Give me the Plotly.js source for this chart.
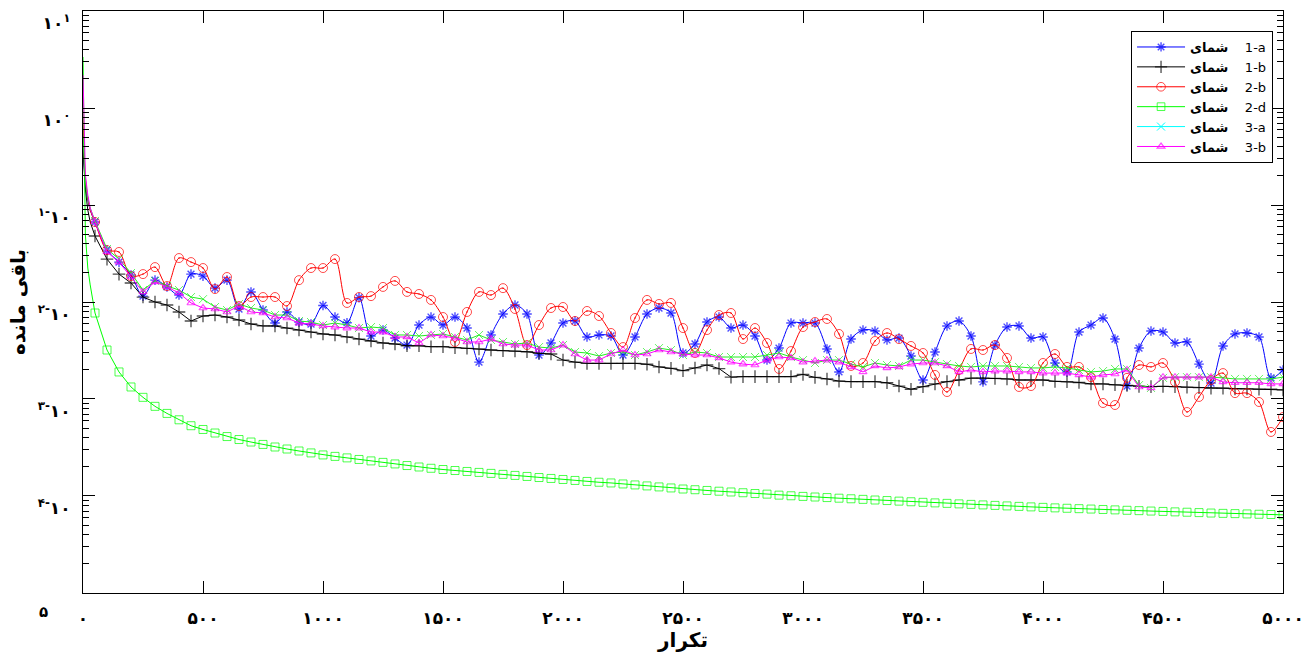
<!DOCTYPE html>
<html>
<head>
<meta charset="utf-8">
<script src="https://cdn.plot.ly/plotly-3.0.1.min.js"></script>
<style>html,body{margin:0;padding:0;background:#fff;}#chart{width:1305px;height:659px;}</style>
</head>
<body>
<div id="chart"></div>
<script>
const iterations = [0,10,20,30,50,100,150,200,250,300,350,400,450,500,550,600,650,700,750,800,850,900,950,1000,1050,1100,1150,1200,1250,1300,1350,1400,1450,1500,1550,1600,1650,1700,1750,1800,1850,1900,1950,2000,2050,2100,2150,2200,2250,2300,2350,2400,2450,2500,2550,2600,2650,2700,2750,2800,2850,2900,2950,3000,3050,3100,3150,3200,3250,3300,3350,3400,3450,3500,3550,3600,3650,3700,3750,3800,3850,3900,3950,4000,4050,4100,4150,4200,4250,4300,4350,4400,4450,4500,4550,4600,4650,4700,4750,4800,4850,4900,4950,5000];

const s1a = [0.527,0.161,0.1125,0.0888,
0.0668,0.0343,0.0258,0.019,0.0115,0.0168,0.0143,0.0118,0.0194,0.0185,
0.0139,0.0168,0.00847,0.0127,0.00827,0.00607,0.00789,0.00622,0.00593,0.0092,
0.0070,0.00612,0.0111,0.00446,0.00514,0.00425,0.0036,0.00579,0.0070,0.00579,
0.0070,0.00539,0.0024,0.00457,0.00752,0.00931,0.00752,0.00284,0.00378,0.00607,
0.00637,0.00436,0.00457,0.00446,0.00284,0.00436,0.00752,0.00867,0.0077,0.00298,
0.00369,0.00622,0.0070,0.00539,0.00579,0.00446,0.00252,0.00335,0.00607,0.00607,
0.00607,0.00328,0.0019,0.00415,0.00514,0.00502,0.00406,0.00425,0.00277,0.00157,
0.00305,0.00566,0.00637,0.00446,0.0015,0.0036,0.00552,0.00566,0.00425,0.00436,
0.00235,0.0019,0.0049,0.00579,0.00684,0.00415,0.00136,0.00335,0.00502,0.0049,
0.00378,0.00387,0.00229,0.00146,0.00352,0.00468,0.00479,0.00436,0.00165,0.00199];

const s1b = [0.369,0.143,0.0888,0.0668,
0.0479,0.0277,0.0194,0.0157,0.01125,0.0100,0.00931,0.00789,0.00637,0.00717,
0.00734,0.0070,0.00652,0.00593,0.00566,0.00566,0.00539,0.00514,0.0049,0.00468,
0.00457,0.00436,0.00415,0.00396,0.00378,0.00369,0.00354,0.00354,0.00346,0.00346,
0.00338,0.00333,0.00328,0.0032,0.00315,0.00312,0.00307,0.00296,0.00291,0.00252,
0.0024,0.00233,0.00233,0.00233,0.00233,0.00233,0.00228,0.00214,0.00207,0.00196,
0.00209,0.00224,0.00206,0.00168,0.0017,0.0017,0.0017,0.0017,0.0017,0.00179,
0.00167,0.00161,0.00153,0.00151,0.00151,0.00151,0.00147,0.00136,0.00126,0.00134,
0.00143,0.00151,0.00157,0.00164,0.00164,0.00163,0.00161,0.00157,0.00157,0.00157,
0.00152,0.00151,0.00148,0.00143,0.00143,0.0014,0.00138,0.00135,0.00134,0.00135,
0.00134,0.00132,0.00131,0.00129,0.00129,0.00127,0.00127,0.00126,0.00126,0.00124];

const s2b = [0.909,0.190,0.118,0.0888,
0.0668,0.0343,0.0328,0.0185,0.0194,0.0229,0.0146,0.0284,0.0258,0.0224,
0.0136,0.0181,0.00909,0.01125,0.01125,0.01125,0.00909,0.0168,0.0224,0.0224,
0.0277,0.00977,0.01125,0.0115,0.0143,0.0165,0.0127,0.0121,0.0105,0.0070,
0.00387,0.00789,0.0127,0.0118,0.0139,0.00847,0.0036,0.00579,0.00867,0.00888,
0.00637,0.00808,0.00717,0.00479,0.00343,0.00684,0.0105,0.00954,0.00977,0.00539,
0.00298,0.00514,0.00734,0.0077,0.00415,0.00539,0.00378,0.00204,0.00312,0.00552,
0.00622,0.00668,0.00468,0.00219,0.00235,0.00396,0.00479,0.00415,0.00352,0.00298,
0.00177,0.00118,0.00199,0.00328,0.0032,0.0036,0.00265,0.00133,0.00136,0.00235,
0.00291,0.00214,0.00214,0.00168,0.000909,0.000867,0.00165,0.00224,0.00214,0.00235,
0.0015,0.000734,0.00105,0.00157,0.00185,0.00115,0.00115,0.000931,0.000457,0.000652];

const s2d = [3.36,0.0491,0.0224,0.0150,
0.0077,0.0032,0.0019,0.00133,0.00104,8.4e-4,7.1e-4,6.1e-4,5.3e-4,4.85e-4,
4.46e-4,4.1e-4,3.82e-4,3.6e-4,3.4e-4,3.2e-4,3.05e-4,2.91e-4,2.78e-4,2.65e-4,
2.56e-4,2.47e-4,2.38e-4,2.3e-4,2.22e-4,2.14e-4,2.06e-4,1.99e-4,1.93e-4,1.875e-4,
1.83e-4,1.79e-4,1.75e-4,1.71e-4,1.67e-4,1.63e-4,1.59e-4,1.55e-4,1.516e-4,1.48e-4,
1.446e-4,1.412e-4,1.385e-4,1.363e-4,1.331e-4,1.3e-4,1.27e-4,1.24e-4,1.21e-4,1.18e-4,
1.16e-4,1.14e-4,1.12e-4,1.10e-4,1.08e-4,1.06e-4,1.045e-4,1.02e-4,1.005e-4,0.99e-4,
9.76e-5,9.63e-5,9.49e-5,9.36e-5,9.23e-5,9.09e-5,8.97e-5,8.85e-5,8.72e-5,8.6e-5,
8.49e-5,8.39e-5,8.29e-5,8.19e-5,8.09e-5,8.0e-5,7.9e-5,7.81e-5,7.72e-5,7.63e-5,
7.54e-5,7.47e-5,7.4e-5,7.33e-5,7.26e-5,7.19e-5,7.12e-5,7.06e-5,6.99e-5,6.93e-5,
6.86e-5,6.8e-5,6.74e-5,6.67e-5,6.62e-5,6.58e-5,6.53e-5,6.48e-5,6.44e-5,6.39e-5];

const s3a = [0.502,0.181,0.118,0.0931,
0.0684,0.0352,0.0277,0.0199,0.0133,0.0165,0.0146,0.0133,0.01125,0.0107,
0.00888,0.00827,0.00954,0.00867,0.00827,0.00734,0.00734,0.00637,0.00622,0.00579,
0.00607,0.00579,0.00539,0.00552,0.00539,0.00457,0.00457,0.00446,0.00457,0.00468,
0.00436,0.00406,0.00457,0.00406,0.00387,0.00369,0.00378,0.00343,0.00335,0.0036,
0.00305,0.00298,0.00277,0.00298,0.00305,0.00284,0.00305,0.00335,0.0032,0.00284,
0.00305,0.00298,0.00271,0.00271,0.00271,0.00271,0.00284,0.00298,0.00271,0.00252,
0.00235,0.00252,0.00252,0.00229,0.00214,0.00235,0.00224,0.00219,0.00252,0.00252,
0.0024,0.00229,0.00219,0.00214,0.00219,0.00219,0.00219,0.00214,0.00209,0.00209,
0.00214,0.00209,0.00199,0.0019,0.00194,0.00204,0.00204,0.00139,0.0013,0.00165,
0.00168,0.00168,0.00168,0.00168,0.00165,0.00161,0.00161,0.00161,0.00161,0.00168];

const s3b = [2.19,0.204,0.127,0.0931,
0.0668,0.0328,0.0258,0.0181,0.0127,0.0161,0.0143,0.0124,0.00977,0.00867,
0.00847,0.00789,0.00909,0.00789,0.0077,0.0070,0.00684,0.00607,0.00593,0.00566,
0.00552,0.00539,0.00539,0.0049,0.0049,0.00436,0.00436,0.00378,0.00457,0.00446,
0.00425,0.00387,0.00387,0.00415,0.00369,0.0036,0.0036,0.0032,0.0032,0.0036,
0.00291,0.00252,0.00252,0.00291,0.0032,0.00284,0.00291,0.0032,0.00305,0.00291,
0.00284,0.00284,0.00265,0.0024,0.00229,0.00224,0.00252,0.00271,0.00265,0.0024,
0.00246,0.00252,0.0024,0.00214,0.0019,0.00219,0.00209,0.00214,0.00229,0.00235,
0.00235,0.00219,0.0019,0.00199,0.0019,0.00194,0.00194,0.0019,0.0019,0.00185,
0.00185,0.00185,0.00177,0.00168,0.00177,0.00181,0.00199,0.00133,0.0013,0.00168,
0.00168,0.00168,0.00168,0.00168,0.0015,0.00147,0.00147,0.00147,0.00143,0.00143];

const seriesNames = ['1-a','1-b','2-b','2-d','3-a','3-b'];
const legendWord = 'شمای';
const xTickVals = [0,500,1000,1500,2000,2500,3000,3500,4000,4500,5000];
const xTickText = ['۰','۵۰۰','۱۰۰۰','۱۵۰۰','۲۰۰۰','۲۵۰۰','۳۰۰۰','۳۵۰۰','۴۰۰۰','۴۵۰۰','۵۰۰۰'];
const yTickVals = [10,1,0.1,0.01,0.001,0.0001,0.00001];
const yTickText = ['۱۰<sup>۱</sup>','۱۰<sup>۰</sup>','<sup>۱-</sup>۱۰','<sup>۲-</sup>۱۰','<sup>۳-</sup>۱۰','<sup>۴-</sup>۱۰',''];
const xTitle = 'تکرار';
const yTitle = 'باقی مانده';
const strayLabel = '۵';

function label(n){ return '<b>' + legendWord + '</b>\u00a0\u00a0\u00a0\u00a0\u200E' + n + '\u200E'; }
function sizes(sz){ return iterations.map(function(x){ return x >= 50 ? sz : 0; }); }

function mk(y, name, color, symbol, sz, lw, shape, showleg){
  return {
    type:'scatter', mode:'lines+markers', x:iterations, y:y, name:label(name),
    showlegend: showleg,
    line:{color:color, width:1, shape:shape, smoothing:0.9},
    marker:{symbol:symbol, size:sizes(sz), color:color, line:{color:color, width:lw}}
  };
}

const traces = [
  mk(s1a, seriesNames[0], '#0000ff', 'asterisk-open', 8, 1.4, 'spline', true),
  mk(s1b, seriesNames[1], '#000000', 'cross-thin-open', 9, 1.3, 'linear', true),
  mk(s2b, seriesNames[2], '#ff0000', 'circle-open-dot', 9, 1, 'spline', true),
  mk(s2d, seriesNames[3], '#00ff00', 'square-open', 8, 1, 'linear', true),
  mk(s3a, seriesNames[4], '#22ee22', 'x-thin-open', 8, 1, 'linear', false),
  {type:'scatter', mode:'lines+markers', x:[null], y:[null], name:label(seriesNames[4]),
   line:{color:'#00ffff', width:1}, marker:{symbol:'x-thin-open', size:8, color:'#00ffff', line:{color:'#00ffff', width:1}}},
  mk(s3b, seriesNames[5], '#ff00ff', 'triangle-up-open', 7, 1.2, 'linear', true)
];

const axisFont = {family:'DejaVu Sans, Noto Sans, sans-serif', size:17, color:'#000', weight:'bold'};

const layout = {
  width:1305, height:659,
  margin:{l:83, r:22, t:11, b:66, pad:0},
  paper_bgcolor:'#fff', plot_bgcolor:'#fff',
  showlegend:true,
  xaxis:{
    range:[0,5000], tickmode:'array', tickvals:xTickVals, ticktext:xTickText,
    ticks:'inside', ticklen:12, tickwidth:1, tickcolor:'#000',
    showline:true, linecolor:'#000', linewidth:1, mirror:'ticks',
    showgrid:false, zeroline:false, tickfont:axisFont, ticklabelstandoff:10,
    automargin:false,
    title:{text:xTitle, font:{family:'DejaVu Sans, sans-serif', size:20, color:'#000', weight:'bold'}, standoff:4}
  },
  yaxis:{
    type:'log', range:[-5.0003,1.0003], tickmode:'array', tickvals:yTickVals, ticktext:yTickText,
    ticks:'inside', ticklen:12, tickwidth:1, tickcolor:'#000',
    minor:{ticks:'inside', ticklen:6, tickcolor:'#000', tickwidth:1, dtick:'D1', showgrid:false},
    showline:true, linecolor:'#000', linewidth:1, mirror:'ticks',
    showgrid:false, zeroline:false, tickfont:axisFont, ticklabelstandoff:8, ticklabelshift:12,
    automargin:false,
    title:{text:yTitle, font:{family:'DejaVu Sans, sans-serif', size:20, color:'#000', weight:'bold'}, standoff:6}
  },
  legend:{
    x:0.9917, y:0.9656, xanchor:'right', yanchor:'top',
    bgcolor:'#fff', bordercolor:'#000', borderwidth:1,
    font:{family:'DejaVu Sans, Liberation Sans, sans-serif', size:13, color:'#000'},
    itemwidth:48, tracegroupgap:0
  },
  annotations:[
    {xref:'paper', yref:'paper', x:-0.038, y:-0.052, text:strayLabel, showarrow:false,
     font:{family:'DejaVu Sans, sans-serif', size:15, color:'#000', weight:'bold'}}
  ]
};

Plotly.newPlot('chart', traces, layout, {displayModeBar:false, staticPlot:true});
</script>
</body>
</html>
